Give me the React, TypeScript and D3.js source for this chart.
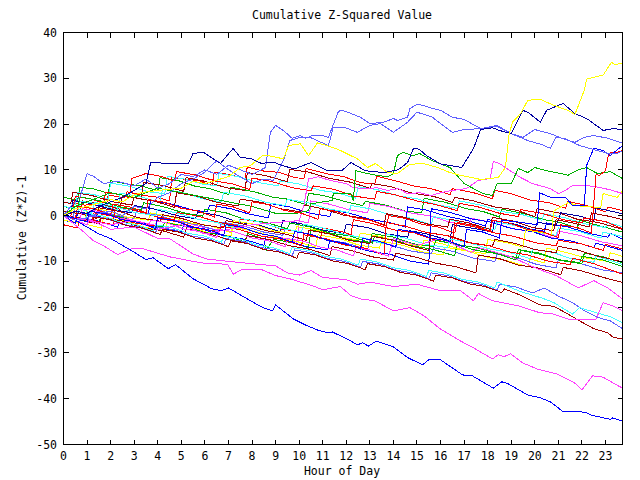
import React from "react";
import * as d3 from "d3";

// ---- axis ticks ----
const hourTicks = d3.range(0, 24);
const valueTicks = [-50, -40, -30, -20, -10, 0, 10, 20, 30, 40];
const titleText = "Cumulative Z-Squared Value";
const xLabel = "Hour of Day";
const yLabel = "Cumulative (Z*Z)-1";

// ---- series: [hour, cumulative value] ----
const yellowTop: [number, number][] = [[0,0],[0.5,1.5],[1,2],[2,3.5],[2.5,3],[3,4.5],[3.3,5],[4,5.5],[5,6],[5.5,7.5],[6,7],[7,8.5],[7.5,10.5],[7.93,10.9],[8.44,13.1],[8.7,13.1],[9.33,12.4],[9.55,15.3],[10.05,15.7],[10.4,13.1],[10.78,15.9],[11.6,14.6],[12.47,12.4],[12.9,10.5],[13.24,11.4],[13.75,9.4],[14.17,9.2],[14.7,11.2],[15.27,11.4],[15.87,10.5],[16.4,9.4],[16.85,8.8],[17.7,7.9],[18.45,8.3],[18.75,10.5],[18.9,17.5],[19.05,20.4],[19.4,22.3],[19.7,25.2],[20.24,25.4],[20.8,24.1],[21.4,23],[21.7,22.1],[22.1,27.4],[22.2,29.8],[22.9,30.7],[23.25,33.5],[23.4,33],[23.72,33.3]];
const navyTop: [number, number][] = [[0,0],[0.5,1],[1,0.5],[1.5,2],[2,3],[2.5,4],[3,5.5],[3.5,7],[3.7,11.6],[4.5,11.4],[5.3,11.4],[5.5,13.6],[5.94,13.8],[6.66,11.4],[7.2,14.7],[7.5,12.7],[7.93,12.5],[8.4,11.4],[8.9,11.7],[9.3,10.9],[9.8,10.2],[10.5,11.6],[11.2,9.8],[11.8,9.8],[12.2,11.6],[12.8,9.8],[13.6,9.4],[14.2,10],[14.6,11.6],[14.85,14.7],[15.1,14.5],[15.4,13.1],[16,11.3],[16.9,10.5],[17.4,14.7],[17.7,18.8],[18.2,19.2],[18.5,18.6],[19.0,17.9],[19.5,23],[19.75,22.4],[20.24,20.4],[20.5,23],[21.2,24.5],[21.7,22.3],[22.2,21.2],[22.9,18.6],[23.3,19],[23.72,18.8]];
const slateUpper: [number, number][] = [[0,0],[0.3,2],[0.7,4],[1,9.2],[1.3,8.5],[1.7,7],[2.3,7.5],[3,6.5],[3.5,8],[4,6],[4.5,7],[5,9],[5.5,8.5],[6,10],[6.5,9],[7,11],[7.5,10],[8,9],[8.57,10.5],[8.78,18.2],[9.0,19.7],[9.33,18.6],[9.7,16.9],[10.05,17.5],[10.27,16.9],[10.56,17.5],[11.0,17.5],[11.24,17.1],[11.67,22.8],[11.84,23],[12.2,22.3],[12.6,21.5],[13.0,20.1],[13.58,20.4],[14.0,21.2],[14.17,20.8],[14.6,21.5],[14.7,23.4],[15.0,24.3],[15.27,24.1],[15.65,23.4],[16,23],[16.5,21.5],[17,21],[17.7,19],[18.4,19.5],[19.0,17.9],[19.5,17.1],[20,18.8],[20.66,17.9],[21.3,16.6],[21.7,16],[22.1,17.1],[22.5,17.5],[23.1,16.9],[23.72,15.8]];
const slateLower: [number, number][] = [[0,0],[0.5,-1],[1,-0.5],[1.5,0.5],[2,1],[2.5,0],[3,2],[3.5,1.5],[4,4],[4.5,5],[5,7],[5.5,8],[6,9.5],[6.5,12],[7,10],[7.5,8.5],[8,7],[8.5,8],[8.9,7.7],[9.33,12],[9.6,16.4],[10,17],[10.5,17],[11.24,15.3],[11.45,19.3],[11.9,19.3],[12.47,18.2],[13,19.7],[13.45,20.1],[14,18.2],[14.6,20.4],[15,22.6],[15.65,21.5],[16,20.1],[16.5,18.2],[17,18.8],[17.7,19],[18.4,19.7],[19,17.9],[19.7,16.4],[20.3,15.5],[20.66,14.7],[20.9,17.1],[21.3,16.8],[21.9,15.3],[22.65,14.2],[23.1,13.6],[23.5,13.6],[23.72,14.2]];
const redJump: [number, number][] = [[0,0],[0.5,-0.7],[0.6,2],[1.3,1.5],[2,0.1],[2.1,2.5],[2.9,1.8],[3.5,0.6],[3.6,3.5],[4.3,2.9],[5,1.6],[5.7,1],[6.4,-0.3],[6.5,2.5],[7.2,1.9],[7.9,0.6],[8,3],[8.7,2.4],[9.4,1.1],[10.1,0.5],[10.8,-0.8],[10.9,1.5],[11.6,0.9],[12.3,-0.4],[13,-1],[13.7,-2.3],[13.8,0],[14.5,-0.6],[15.2,-1.9],[15.9,-2.5],[16.6,-3.8],[16.7,-1.5],[17.4,-2.1],[18.1,-3.4],[18.2,-1],[18.9,-1.6],[19.6,-2.9],[20.3,-3.5],[21,-4.8],[21.1,-2],[21.8,-2.6],[22.4,-3.8],[22.5,2.6],[22.6,9],[22.75,8.8],[23,9.8],[23.1,12.7],[23.2,13.8],[23.5,13.8],[23.72,14.2]];
const blueJump: [number, number][] = [[0,0],[0.5,-0.6],[1,-1.4],[1.1,1],[1.8,0.4],[2.5,-0.9],[3.2,-1.5],[3.9,-2.8],[4,-0.5],[4.7,-1.1],[5.4,-2.4],[6.1,-3],[6.8,-4.3],[6.9,-2],[7.6,-2.6],[8.3,-3.9],[9,-4.5],[9.7,-5.8],[9.8,-3.5],[10.5,-4.1],[11.2,-5.4],[11.9,-6],[12.6,-7.3],[12.7,-5],[13.4,-5.6],[14.1,-6.9],[14.2,-3],[14.9,-3.6],[15.6,-4.9],[16.3,-5.5],[17,-6.8],[17.1,-3],[17.8,-3.6],[18.5,-4.9],[18.6,-1],[19.3,-1.4],[20.1,-2],[20.2,5],[20.66,4],[21.3,4],[21.6,2.2],[22.1,2.2],[22.2,11],[22.5,14.7],[22.9,14.2],[23.2,13.1],[23.72,15.3]];
const greenUpper: [number, number][] = [[0,0],[0.5,2],[1,3],[2,5],[3,4],[4,6],[5,5],[6,4],[7,3],[8,2],[9,0.5],[9.8,0.4],[10.4,1.1],[10.5,2.6],[11.4,3.3],[11.45,4.8],[12.2,4.8],[12.3,3.3],[12.4,9.8],[12.9,9.2],[13.3,8.8],[13.75,8.5],[14,9.2],[14.17,13.1],[14.4,13.8],[14.85,13.1],[15.1,13.6],[15.65,12],[16.4,10.5],[17,7],[17.8,4.8],[18.2,4.4],[18.4,7],[19,7],[19.3,10.3],[19.7,9.4],[20,10.5],[20.5,9.8],[21.1,9.2],[21.4,8.8],[21.85,10],[22.2,10.5],[22.65,9.2],[23.2,9.6],[23.72,8.1]];
const magentaUpper: [number, number][] = [[0,0],[1,-1],[2,-2],[3,-1],[4,-3],[5,-2],[6,-4],[7,-3],[8,-2],[9,-1.5],[10,-1.1],[10.2,2.2],[10.4,8],[10.8,8.5],[11.3,7.7],[12,7],[12.3,6.1],[12.9,5.9],[13.3,6.1],[13.75,5.5],[14.2,5.9],[14.6,4.8],[15.1,5],[15.6,4.4],[16,5],[16.5,5.5],[17.1,5.9],[17.6,7.7],[18.1,8.1],[18.24,11.8],[18.5,11.4],[18.75,10.5],[19.4,8.3],[19.9,7],[20.66,5.9],[21,4.8],[21.3,5.5],[21.6,6.6],[22.2,6.6],[22.8,6.1],[23.3,5.5],[23.72,4.8]];
const magentaBottom: [number, number][] = [[0,0],[0.8,-3.3],[1.27,-5.5],[1.7,-6.6],[2.3,-8.5],[2.84,-7.3],[3.35,-7.2],[4.5,-9],[5.5,-10],[6.1,-10.5],[6.96,-10.6],[7.2,-12.8],[7.6,-11.7],[8.36,-11.7],[9.0,-13.1],[9.6,-13.8],[10.56,-15.3],[11.0,-16.2],[11.75,-15.5],[12.2,-17.5],[12.6,-18.2],[13.2,-18.6],[14.0,-20.8],[14.7,-20.1],[15.3,-21.9],[16,-24.8],[16.85,-27.4],[17.4,-28.9],[18.2,-31.3],[18.45,-30.4],[18.7,-30.8],[18.97,-30.2],[19.5,-32.2],[20.1,-33.5],[20.96,-34.6],[21.7,-36.6],[22.0,-38.1],[22.45,-35],[22.9,-35.3],[23.72,-37.7]];
const magentaLow: [number, number][] = [[0,0],[1,-2],[1.1,-0.8],[2,-3],[3,-2.5],[4,-5],[4.5,-5],[5.5,-8.4],[6.1,-9.5],[7,-10],[8,-10.5],[9,-11],[9.5,-12.5],[10,-13],[10.5,-12],[11,-13.5],[12,-14],[12.5,-15],[13,-14.5],[14,-15.5],[15,-15],[16,-16.4],[16.85,-16.4],[17.4,-18.6],[17.6,-17],[18.2,-18.6],[19.3,-19.7],[20.2,-21.2],[20.8,-21.5],[21.4,-22.6],[22.2,-22.8],[22.6,-22.6],[22.9,-19],[23.3,-19.7],[23.72,-20.8]];
const magentaMid: [number, number][] = [[0,0],[0.7,-1],[0.8,1.5],[1.5,0.9],[2.2,-0.4],[2.9,-1],[3.6,-2.3],[3.7,-1],[4.4,-1.6],[5.1,-2.9],[5.8,-3.5],[6.5,-4.8],[6.6,-3],[7.3,-3.6],[8,-4.9],[8.7,-5.5],[9.4,-6.8],[9.5,-5],[10.2,-5.6],[10.9,-6.9],[11.6,-7.5],[12.3,-8.8],[12.4,-7],[13.1,-7.6],[13.8,-8.9],[14,-5],[15,-6.5],[16,-5],[16.5,-6.1],[17.3,-8.1],[17.6,-7],[18,-7.5],[19,-9],[20.1,-11.6],[20.9,-13.1],[21.85,-15.8],[22.5,-14.2],[23.1,-15.8],[23.72,-18.2]];
const slateLow: [number, number][] = [[0,0],[0.5,-0.5],[1,-1.4],[1.1,0],[1.8,-0.6],[2.5,-1.9],[3.2,-2.5],[3.9,-3.8],[4,-2.5],[4.7,-3.1],[5.4,-4.4],[6.1,-5],[6.8,-6.3],[6.9,-5],[7.6,-5.6],[8.3,-6.9],[9,-7.5],[9.7,-8.8],[9.8,-7.5],[10.5,-8.1],[11.2,-9.4],[11.9,-10],[12.6,-11.3],[12.7,-10],[13.4,-10.6],[14.1,-11.9],[14.8,-12.5],[15.5,-13.8],[15.6,-12.5],[16.3,-13.1],[17,-14.4],[17.7,-15],[18.4,-16.3],[18.5,-15],[19.2,-15.6],[19.9,-16.9],[20.4,-15.8],[21,-17.6],[21.6,-19],[22.1,-20.8],[22.7,-22.3],[23.2,-23],[23.72,-24.7]];
const darkRedLow: [number, number][] = [[0,0],[0.6,-0.6],[1.2,-1.6],[1.3,-0.3],[2,-0.9],[2.7,-2.2],[3.4,-2.8],[4.1,-4.1],[4.2,-3],[4.9,-3.6],[5.6,-4.9],[6.3,-5.5],[7,-6.8],[7.1,-5.5],[7.8,-6.1],[8.5,-7.4],[9.2,-8],[9.9,-9.3],[10,-8],[10.7,-8.6],[11.4,-9.9],[12.1,-10.5],[12.8,-11.8],[12.9,-10.5],[13.6,-11.1],[14.3,-12.4],[15,-13],[15.7,-14.3],[15.8,-13],[16.5,-13.6],[17.2,-14.9],[17.9,-15.5],[18.6,-16.8],[18.7,-16],[19.4,-17.4],[20.2,-19.5],[20.8,-19.8],[21.3,-21.2],[21.9,-23],[22.5,-24.7],[23.1,-25.6],[23.3,-26.5],[23.72,-27]];
const cyanLow: [number, number][] = [[0,0],[0.5,-0.5],[0.9,-1.2],[1,0.5],[1.7,-0.1],[2.4,-1.4],[3.1,-2],[3.8,-3.3],[3.9,-2],[4.6,-2.6],[5.3,-3.9],[6,-4.5],[6.7,-5.8],[6.8,-4.5],[7.5,-5.1],[8.2,-6.4],[8.9,-7],[9.6,-8.3],[9.7,-7],[10.4,-7.6],[11.1,-8.9],[11.8,-9.5],[12.5,-10.8],[12.6,-9.5],[13.3,-10.1],[14,-11.4],[14.7,-12],[15.4,-13.3],[15.5,-12],[16.2,-12.6],[16.9,-13.9],[17.6,-14.5],[18.3,-15.8],[18.4,-14.5],[19.4,-16.6],[20.3,-18],[20.8,-19],[21.6,-21.5],[21.9,-20.1],[22.6,-21.2],[23.2,-22.1],[23.72,-23.4]];
const blueBottom: [number, number][] = [[0,0],[0.5,-1],[1,-2.5],[1.5,-4],[2,-5],[2.5,-6.5],[3,-8],[3.5,-9.6],[3.8,-9.2],[4.45,-11.6],[4.75,-10.7],[5.5,-13.8],[6.3,-16],[6.7,-16.4],[7.0,-15.8],[7.93,-18.6],[8.5,-20.2],[8.87,-20.8],[9.0,-19.5],[9.76,-22.6],[10.27,-23.9],[10.78,-25],[11.24,-25.6],[11.4,-25.4],[12.05,-27],[12.47,-28.2],[12.7,-27.8],[12.94,-28.5],[13.28,-27.4],[14.0,-28.7],[14.6,-31],[15.23,-32.6],[15.5,-31.5],[16.0,-31.5],[16.93,-34.8],[17.35,-35],[18.24,-37.7],[18.6,-36.3],[18.85,-36.7],[19.7,-39.2],[20.24,-39.8],[20.66,-40.7],[21.17,-42.7],[21.8,-42.7],[22.2,-43.1],[22.4,-43.6],[23.2,-44.5],[23.3,-44.2],[23.72,-44.9]];
const darkRedMidLow: [number, number][] = [[0,0],[0.9,-0.7],[1.5,-1.8],[1.6,-0.4],[2.5,-1.2],[3.3,-2.6],[4.2,-3.3],[5.1,-4.7],[5.2,-2.9],[6,-3.7],[6.9,-5.1],[7.7,-5.8],[7.8,-4.4],[8.7,-5.2],[9.6,-6.6],[10.4,-7.3],[11.3,-8.7],[11.4,-6.8],[12.2,-7.6],[13.1,-9],[14,-9.7],[14.1,-8.2],[14.9,-9],[15.8,-10.4],[16.6,-11.1],[17.5,-12.5],[17.6,-8.6],[18.5,-9.4],[19.3,-10.8],[20.2,-11.5],[21.1,-12.9],[21.2,-11.3],[22,-12.1],[22.9,-13.5],[23.72,-14.6]];
const yellowMid: [number, number][] = [[0,0],[0.5,-0.5],[0.9,-1.1],[1,1.8],[1.8,1.1],[2.7,-0.3],[3.6,-1],[3.7,0.6],[4.5,-0.2],[5.4,-1.6],[6.3,-2.3],[7.1,-3.7],[7.2,-1.1],[8.1,-1.9],[8.9,-3.3],[9.8,-4],[9.9,-2.4],[10.8,-3.2],[11.6,-4.6],[12.5,-5.3],[12.6,-3.8],[13.5,-4.6],[14.3,-6],[15.2,-6.7],[15.3,-5.4],[16.1,-6.2],[17,-7.6],[17.9,-8.3],[18,-5.2],[18.9,-6],[19.5,-6.9],[19.6,-3.1],[20.5,-3.9],[20.7,-4.4],[20.8,1],[21.4,2.8],[22,2],[22.8,1.8],[22.9,4.8],[23.5,4],[23.72,5.5]];
const navyMid: [number, number][] = [[0,1],[0.3,0.5],[0.4,3.3],[1.2,2.6],[2.1,1.3],[2.9,0.6],[3,2.2],[3.9,1.4],[4.8,0],[5.6,-0.7],[5.7,0.8],[6.6,0],[7.4,-1.4],[8.3,-2.1],[9.2,-3.5],[9.3,-1.1],[10.1,-1.8],[11,-3.2],[11.9,-3.9],[12,-1.9],[12.9,-2.6],[13.7,-4],[14.6,-4.7],[14.7,-3.3],[15.5,-4.1],[16.4,-5.5],[16.5,-2],[17.4,-2.8],[18.2,-3.6],[18.3,-1.1],[19.2,-1.9],[20,-3.3],[20.1,-1.4],[20.9,-2.2],[21.1,0.6],[22,-0.2],[22.5,-1.1],[22.6,1.7],[23.3,0.9],[23.72,0.4]];
const darkRedMid: [number, number][] = [[0,3],[0.3,2.6],[0.4,5.1],[1.2,4.4],[2.1,3],[2.9,2.3],[3,3.9],[3.9,3.1],[4.7,1.8],[4.8,5],[5.7,4.2],[6.5,2.9],[7.4,2.1],[7.5,3.6],[8.4,2.9],[9.2,1.5],[10.1,0.8],[10.2,2.3],[11,1.5],[11.9,0.1],[12.8,-0.6],[13.6,-2],[13.7,0.4],[14.5,-0.4],[15.4,-1.8],[16.3,-2.5],[16.4,-0.8],[17.2,-1.6],[18.1,-3],[18.2,-0.4],[19.1,-1.2],[19.9,-2.6],[20.8,-3.3],[20.9,-0.9],[21.7,-1.7],[22.3,-2.5],[22.4,0.6],[23.2,-0.2],[23.72,-0.9]];
const redMidA: [number, number][] = [[0,2],[0.4,1.6],[0.5,4.2],[1.1,3.7],[1.7,2.8],[1.8,5.1],[2.5,4.5],[2.8,3.9],[2.9,8.1],[3.5,9.2],[4.2,8.5],[4.7,7.6],[4.8,9.6],[5.6,8.9],[6.4,7.6],[7.2,6.9],[7.9,5.7],[8,8.2],[8.8,7.5],[9.7,6.1],[10.5,5.4],[10.6,6.5],[11.5,5.7],[12.3,4.3],[13.2,3.6],[13.3,5.3],[14.1,4.5],[15,3.2],[15.8,2.4],[16.7,1.1],[16.8,2.7],[17.6,1.9],[18.5,0.5],[19.3,-0.2],[19.4,1.3],[20.3,0.5],[21.2,-0.9],[22,-1.6],[22.1,-0.5],[23,-1.3],[23.72,-2.9]];
const greenMidA: [number, number][] = [[0,4],[0.6,3.4],[0.7,6.2],[1.3,5.8],[1.9,4.9],[2,7.6],[2.8,6.8],[3.3,6.5],[4,5.4],[4.1,8.3],[4.9,7.6],[5.6,6.4],[6.2,5.9],[7,4.6],[7.1,6.2],[8.1,5.2],[8.9,4],[9.5,3.6],[10.3,2.4],[10.4,4.9],[11.1,4.3],[12,3],[12.7,2.2],[12.8,3.1],[13.6,2.4],[14.5,1],[15.2,0.6],[15.3,3.8],[16.2,2.9],[17.1,1.5],[17.8,0.9],[18.5,-0.3],[18.6,1.4],[19.5,0.5],[20.4,-0.9],[21.1,-1.5],[21.8,-2.7],[21.9,-1],[22.8,-2.3],[23.72,-3.6]];
const cyanMidA: [number, number][] = [[0,1],[0.6,0.4],[0.7,3.2],[1.5,2.5],[2.3,1.2],[2.4,4.9],[3.2,4.2],[4.1,2.9],[4.2,5.8],[5,5.1],[5.9,3.7],[6.7,3],[6.8,5.1],[7.7,4.3],[8.6,2.9],[9.4,2.2],[9.5,3.6],[10.4,2.8],[11.2,1.5],[12.1,0.7],[12.2,2.2],[13,1.5],[13.9,0.1],[14.8,-0.6],[15.6,-2],[15.7,-0.2],[16.5,-1],[17.4,-2.4],[18.3,-3.1],[18.4,-1.4],[19.2,-2.2],[20.1,-3.6],[20.9,-4.3],[21,-2.7],[21.9,-3.5],[22.8,-4.9],[22.9,-3.6],[23.72,-4.6]];
const blueMidA: [number, number][] = [[0,-1],[0.5,-1.6],[0.6,0.6],[1.4,0],[2.1,-1.1],[2.2,1.9],[3,1.3],[3.6,0.3],[3.7,3.3],[4.6,2.5],[5.5,1.2],[6.1,0.8],[6.2,2.3],[7.1,1.5],[7.9,0.3],[8.7,-0.5],[8.8,2.6],[9.6,1.9],[10.4,0.6],[11.3,-0.2],[11.4,1.2],[12.1,0.6],[13,-0.8],[13.9,-1.6],[14.5,-2.5],[14.6,1.9],[15.4,1.2],[16.3,-0.2],[17.1,-1],[17.9,-2.3],[18,-0.9],[18.8,-1.5],[19.7,-2.9],[20.4,-3.4],[20.5,-1.6],[21.4,-2.5],[22.3,-3.9],[23.1,-4.7],[23.2,-3.9],[23.72,-5.1]];
const redMidB: [number, number][] = [[0,-2],[0.6,-2.7],[0.7,-0.6],[1.5,-1.3],[2.1,-2],[2.2,1.9],[3,1.2],[3.9,-0.2],[4.7,-0.9],[4.8,0.7],[5.7,-0.1],[6.6,-1.5],[7.4,-2.2],[7.5,-0.7],[8.4,-1.5],[9.2,-2.9],[10.1,-3.6],[10.9,-5],[11,-2.7],[11.8,-3.5],[12.2,-4.2],[12.3,-0.9],[13.1,-1.7],[14,-3.1],[14.9,-3.8],[15.7,-5.2],[16.5,-6.1],[16.6,-1.6],[17.4,-2.4],[18.3,-3.8],[19.1,-4.5],[20,-5.9],[20.9,-6.6],[21,-5.4],[22,-6.2],[22.9,-7.6],[23,-6.3],[23.72,-7.3]];
const yellowLow: [number, number][] = [[0,-1],[0.9,-1.8],[1.6,-2.7],[1.7,-0.4],[2.6,-1.2],[3.5,-2.6],[4.3,-3.3],[4.4,-1.5],[5.3,-2.4],[6.2,-3.8],[7.1,-4.5],[7.2,-2.6],[8.1,-3.4],[9,-4.8],[9.8,-5.5],[10.7,-6.9],[10.8,-4.2],[11.7,-5],[12.5,-6.4],[13.4,-7.1],[13.5,-5.6],[14.4,-6.5],[15.2,-7.9],[16.1,-8.6],[16.2,-6.9],[17.1,-7.7],[18,-9.1],[18.8,-9.8],[19.7,-11.2],[19.8,-9.5],[20.4,-10.3],[20.5,-7.1],[21.3,-8],[22.2,-9.3],[23.1,-10],[23.2,-8.1],[23.72,-8.9]];
const greenMidB: [number, number][] = [[0,0],[0.9,-0.7],[1.5,-1.7],[1.6,0.4],[2.5,-0.4],[3.3,-1.8],[4.2,-2.5],[4.3,-1.5],[5.1,-2.3],[6,-3.7],[6.9,-4.4],[7.7,-5.8],[7.8,-3.9],[8.5,-5.1],[8.6,-7.6],[8.9,-5.2],[9.7,-5.9],[10.4,-7],[10.5,-3.1],[11.3,-3.9],[12.2,-5.3],[13.1,-6],[13.2,-4.5],[14,-5.3],[14.9,-6.7],[15.7,-7.4],[16.6,-8.8],[16.7,-6.3],[17.6,-7.1],[18.5,-8.5],[19.3,-9.2],[19.4,-7.6],[20.2,-8.4],[21.1,-9.8],[22,-10.5],[22.1,-8.2],[22.9,-9],[23.72,-10.3]];
const darkRedMidB: [number, number][] = [[0,1],[0.8,0.3],[1.4,-0.6],[1.5,1.7],[2.4,0.9],[3.2,-0.5],[4.1,-1.2],[4.2,0.2],[5,-0.6],[5.9,-2],[6.8,-2.7],[6.9,-1.1],[7.7,-1.9],[8.6,-3.3],[9.4,-4],[10.3,-5.4],[10.4,-3.2],[11.3,-4],[12.1,-5.4],[13,-6.1],[13.1,-4.5],[13.9,-5.3],[14.8,-6.7],[15.5,-7.6],[15.6,-3.8],[16.5,-4.6],[17.3,-6],[18.2,-6.7],[18.3,-5.2],[19.1,-6],[20,-7.4],[20.9,-8.1],[21,-6.7],[21.8,-7.5],[22.7,-8.9],[23.72,-10.1]];
const cyanMidB: [number, number][] = [[0,2],[0.8,1.3],[1.2,0.5],[1.3,2.9],[2.1,2.1],[3,0.7],[3.9,0],[4,1.4],[4.8,0.6],[5.7,-0.8],[6.5,-1.5],[7.4,-2.9],[7.5,-0.6],[8.3,-1.4],[9.2,-2.8],[10.1,-3.5],[10.2,-1.9],[11,-2.7],[11.9,-4.1],[12.7,-4.8],[13.6,-6.2],[13.7,-4.1],[14.5,-4.9],[15.4,-6.3],[16.3,-7],[16.4,-5.1],[17.2,-5.9],[18.1,-7.3],[18.9,-8],[19.8,-9.4],[19.9,-7.3],[20.8,-8.1],[21.6,-9.5],[22.5,-10.2],[22.6,-8.8],[23.72,-10.7]];
const slateMid: [number, number][] = [[0,0],[0.4,-0.6],[0.5,2.1],[1.3,1.5],[2.2,0.1],[3,-0.6],[3.1,0.9],[4,0.1],[4.9,-1.3],[5.7,-2],[6.6,-3.4],[6.7,-1.4],[7.6,-2.2],[8.5,-3.6],[9.3,-4.3],[9.4,-3],[10.3,-3.9],[11.2,-5.3],[12,-6],[12.9,-7.4],[13,-5.5],[13.8,-6.3],[14.7,-7.7],[15.6,-8.4],[15.7,-7],[16.6,-7.9],[17.4,-9.3],[18.3,-10],[18.4,-8.4],[19.3,-9.3],[20.1,-10.7],[20.9,-11.4],[21,-9.6],[21.9,-10.4],[22.8,-11.8],[23.72,-12.5]];
const redMidC: [number, number][] = [[0,0],[0.7,-0.7],[1.2,-1.5],[1.3,0.6],[2.2,-0.2],[3,-1.6],[3.9,-2.3],[4,-0.6],[4.9,-1.4],[5.7,-2.8],[6.6,-3.5],[6.7,-2.3],[7.5,-3.1],[8.4,-4.5],[9.3,-5.2],[10.1,-6.6],[10.2,-4.2],[11.1,-5],[11.9,-6.4],[12.8,-7.1],[13.6,-8.6],[13.7,-1.5],[14.5,-2.3],[15.4,-3.7],[16.3,-4.4],[17.1,-5.8],[18,-6.5],[18.9,-7.9],[19.7,-8.6],[20.6,-10],[21.5,-10.7],[21.6,-9.3],[22.5,-10.5],[23.72,-12.8]];
const blueMidB: [number, number][] = [[0,0],[0.5,-1.7],[0.6,-0.4],[1.4,-1.1],[2.3,-2.5],[2.4,-0.6],[3.2,-1.4],[4.1,-2.8],[5,-3.5],[5.1,-2.2],[5.9,-3],[6.8,-4.4],[7.6,-5.1],[8.5,-6.5],[8.6,-4.6],[9.5,-5.4],[10.3,-6.8],[11.2,-7.5],[11.3,-5.6],[12.1,-6.4],[13,-7.8],[13.9,-8.5],[14.7,-9.9],[15.5,-10.6],[15.6,1.5],[16.4,0.7],[17.3,-0.7],[18.1,-1.4],[19,-2.8],[19.9,-3.5],[20.7,-4.9],[21.6,-5.6],[22.5,-7],[22.6,-6],[23.72,-7.6]];
const greenMidC: [number, number][] = [[0,2],[0.6,1.4],[0.7,4.1],[1.5,3.3],[2.4,1.9],[3.3,1.2],[3.4,2.8],[4.2,2],[5.1,0.6],[5.9,-0.1],[6,1.4],[6.9,0.6],[7.7,-0.8],[8.6,-1.5],[9.5,-2.9],[9.6,-1.6],[10.4,-2.4],[11.3,-3.8],[12.2,-4.5],[13,-5.9],[13.1,-3.9],[14,-4.7],[14.8,-6.1],[15.7,-6.8],[15.8,-5.4],[16.6,-6.2],[17.5,-7.6],[18.4,-8.3],[19.2,-9.7],[19.3,-7.4],[20.2,-8.2],[21,-9.6],[21.9,-10.3],[22,-8.9],[22.9,-9.7],[23.72,-11.1]];
const darkRedHigh: [number, number][] = [[0,2],[0.7,1.3],[0.8,3.2],[1.6,2.5],[2.4,1.4],[2.5,4.4],[3.3,3.7],[3.4,7.3],[4.2,6.6],[5.1,5.3],[5.2,8.3],[6,7.5],[6.9,6.1],[7.7,5.5],[7.8,9.4],[8.6,8.7],[9.5,7.4],[9.6,10.1],[10.4,9.5],[11.3,8.1],[12.1,7.4],[13,6],[13.1,7],[13.9,6.3],[14.8,4.9],[15.7,4.2],[16.5,2.9],[16.6,4],[17.4,3.2],[18.3,1.9],[19.2,1.2],[20,-0.2],[20.1,1.5],[21,0.6],[21.8,-0.8],[22.7,-1.5],[23.72,-3]];
const redHigh: [number, number][] = [[0,0],[0.3,-0.4],[0.4,2.8],[0.9,2.3],[1.3,2.4],[1.8,1.6],[1.9,4.5],[2.6,3.9],[2.7,5.2],[3.4,4.4],[3.9,4.1],[4.5,3.2],[4.6,8.4],[5.2,7.9],[5.7,7.7],[6.3,6.6],[6.4,9.5],[7.1,8.9],[7.7,8.1],[7.8,10.6],[8.6,9.6],[9.1,9.5],[9.8,8.3],[10.2,8.1],[10.3,10.3],[11.2,9.1],[11.9,8.5],[12.6,7.2],[13.2,6.9],[13.3,8.6],[14.1,7.6],[14.9,6.4],[15.6,5.9],[16.4,4.6],[16.5,5.9],[17.4,5],[18.2,3.7],[18.3,5.5],[19,4.8],[19.8,3.4],[20.6,2.8],[21.3,1.6],[21.4,3.1],[22.2,2.2],[23,0.8],[23.1,1.9],[23.72,1.1]];
const magentaCenter: [number, number][] = [[0,0],[0.8,-0.7],[1.3,-1.6],[1.4,0.8],[2.2,0.1],[3.1,-1.2],[3.9,-2.1],[4,-0.3],[4.9,-1.1],[5.8,-2.4],[6.6,-3.2],[6.7,-1.9],[7.6,-2.8],[8.5,-4.1],[9.4,-5],[9.9,-5.8],[10,-1.2],[10.4,-1.6],[10.5,3.2],[11.2,2.6],[12.1,1.3],[12.9,0.6],[13,2.7],[13.8,2],[14.7,0.6],[15.6,-0.1],[16.4,-1.5],[17.2,-2.1],[17.3,-0.6],[18.2,-1.5],[19.1,-2.9],[20,-3.6],[20.9,-5],[21,-3.4],[21.9,-4.3],[22.8,-5.7],[23.72,-6.6]];
const cyanHigh: [number, number][] = [[0,3],[0.5,2.5],[0.6,5.1],[1.3,4.6],[1.9,3.6],[2,7.1],[2.8,6.4],[3.6,5.2],[4.3,4.8],[4.4,8.6],[5.1,8],[5.9,6.9],[6.5,6.5],[6.6,9.2],[7.4,8.5],[8.3,7.2],[9.1,6.5],[9.2,7.6],[10,6.9],[10.9,5.5],[11.6,5],[12.4,3.8],[12.5,6.3],[13.3,5.7],[14.2,4.3],[15,3.7],[15.9,2.3],[16.7,1.6],[16.8,3.2],[17.7,2.3],[18.6,0.9],[19.4,0.3],[20.3,-1],[20.4,0.4],[21.3,-0.5],[22.2,-1.9],[23,-2.6],[23.1,-1.5],[23.72,-2.4]];

const palette = {
  red: "#ff0000", green: "#00b000", blue: "#0000ff", magenta: "#ff40ff",
  cyan: "#40ffff", darkred: "#a00000", yellow: "#ffff00", slate: "#6060ff", navy: "#0000a0",
};

const seriesList: { data: [number, number][]; color: string }[] = [
  { data: redHigh, color: palette.red },
  { data: greenMidA, color: palette.green },
  { data: blueMidA, color: palette.blue },
  { data: magentaCenter, color: palette.magenta },
  { data: cyanHigh, color: palette.cyan },
  { data: darkRedHigh, color: palette.darkred },
  { data: yellowLow, color: palette.yellow },
  { data: slateMid, color: palette.slate },
  { data: navyMid, color: palette.navy },
  { data: redMidA, color: palette.red },
  { data: greenMidB, color: palette.green },
  { data: blueMidB, color: palette.blue },
  { data: cyanMidA, color: palette.cyan },
  { data: darkRedMid, color: palette.darkred },
  { data: yellowMid, color: palette.yellow },
  { data: redMidB, color: palette.red },
  { data: greenMidC, color: palette.green },
  { data: cyanMidB, color: palette.cyan },
  { data: darkRedMidB, color: palette.darkred },
  { data: redMidC, color: palette.red },
  { data: darkRedMidLow, color: palette.darkred },
  { data: magentaMid, color: palette.magenta },
  { data: slateLow, color: palette.slate },
  { data: cyanLow, color: palette.cyan },
  { data: darkRedLow, color: palette.darkred },
  { data: magentaLow, color: palette.magenta },
  { data: magentaBottom, color: palette.magenta },
  { data: blueBottom, color: palette.blue },
  { data: magentaUpper, color: palette.magenta },
  { data: greenUpper, color: palette.green },
  { data: redJump, color: palette.red },
  { data: blueJump, color: palette.blue },
  { data: slateLower, color: palette.slate },
  { data: slateUpper, color: palette.slate },
  { data: navyTop, color: palette.navy },
  { data: yellowTop, color: palette.yellow },
];

const W = 640, H = 480;
const left = 63.5, right = 622.5, top = 32.5, bottom = 444.5;
const FONT = "'DejaVu Sans Mono', monospace";

export default function App() {
  const x = d3.scaleLinear().domain([0, 23.72]).range([left, right]);
  const y = d3.scaleLinear().domain([-50, 40]).range([bottom, top]);
  const line = d3.line<[number, number]>().x((d) => x(d[0])).y((d) => y(d[1]));
  const tick = 5;

  return (
    <svg width={W} height={H} style={{ position: "absolute", left: 0, top: 0, background: "#fff" }}
      fontFamily={FONT} fontSize={11.5}>
      <rect x={0} y={0} width={W} height={H} fill="#fff" />
      <text x={342} y={19} textAnchor="middle">{titleText}</text>
      <g shapeRendering="crispEdges">
        {seriesList.map((s, i) => (
          <path key={i} d={line(s.data) || ""} fill="none" stroke={s.color} strokeWidth={1} />
        ))}
      </g>
      <g stroke="#000" strokeWidth={1} shapeRendering="crispEdges">
        <rect x={left} y={top} width={right - left} height={bottom - top} fill="none" />
        {hourTicks.map((h) => (
          <g key={h}>
            <line x1={x(h)} x2={x(h)} y1={bottom} y2={bottom - tick} />
            <line x1={x(h)} x2={x(h)} y1={top} y2={top + tick} />
          </g>
        ))}
        {valueTicks.map((v) => (
          <g key={v}>
            <line x1={left} x2={left + tick} y1={y(v)} y2={y(v)} />
            <line x1={right} x2={right - tick} y1={y(v)} y2={y(v)} />
          </g>
        ))}
      </g>
      {hourTicks.map((h) => (
        <text key={h} x={x(h)} y={460} textAnchor="middle">{h}</text>
      ))}
      {valueTicks.map((v) => (
        <text key={v} x={57} y={y(v) + 4} textAnchor="end">{v}</text>
      ))}
      <text x={342} y={475} textAnchor="middle">{xLabel}</text>
      <text transform={`translate(26,238) rotate(-90)`} textAnchor="middle">{yLabel}</text>
    </svg>
  );
}
